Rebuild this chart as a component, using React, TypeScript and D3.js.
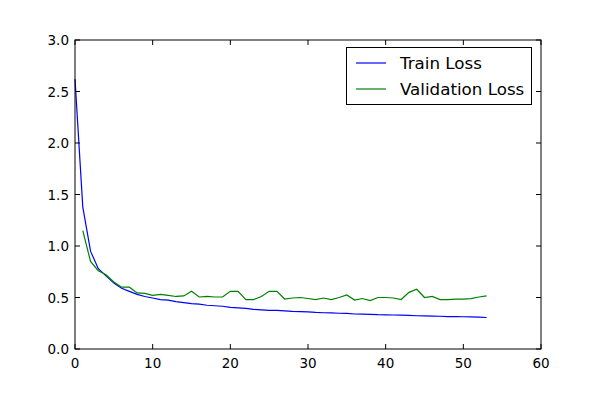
import React from 'react'
import * as d3 from 'd3'

const trainLoss = [2.62, 1.38, 0.95, 0.78, 0.71, 0.64, 0.59, 0.56, 0.53, 0.51, 0.495, 0.48, 0.475, 0.46, 0.45, 0.44, 0.435, 0.425, 0.42, 0.415,
  0.405, 0.4, 0.395, 0.385, 0.38, 0.375, 0.375, 0.37, 0.365, 0.362, 0.36, 0.355, 0.352, 0.35, 0.347, 0.345, 0.34, 0.338, 0.336, 0.333,
  0.332, 0.33, 0.328, 0.326, 0.323, 0.322, 0.32, 0.318, 0.315, 0.315, 0.313, 0.311, 0.309, 0.306]
const valLoss = [1.15, 0.85, 0.76, 0.72, 0.65, 0.6, 0.6, 0.545, 0.54, 0.52, 0.53, 0.52, 0.51, 0.515, 0.56, 0.505, 0.51, 0.505, 0.505,
  0.56, 0.56, 0.48, 0.48, 0.51, 0.56, 0.56, 0.485, 0.495, 0.5, 0.49, 0.48, 0.495, 0.48, 0.5, 0.525, 0.475, 0.49, 0.47, 0.5, 0.5,
  0.495, 0.48, 0.55, 0.58, 0.5, 0.51, 0.48, 0.48, 0.485, 0.485, 0.49, 0.505, 0.515]
const xTicks = [0, 10, 20, 30, 40, 50, 60]
const yTicks = [0, 0.5, 1, 1.5, 2, 2.5, 3]

export default function App() {
  const m = { l: 75, r: 541, t: 40, b: 349 }
  const x = d3.scaleLinear().domain([0, 60]).range([m.l, m.r])
  const y = d3.scaleLinear().domain([0, 3]).range([m.b, m.t])
  const line = d3.line<[number, number]>().x(d => x(d[0])).y(d => y(d[1]))
  const trainPts = trainLoss.map((v, i) => [i, v] as [number, number])
  const valPts = valLoss.map((v, i) => [i + 1, v] as [number, number])
  const font = 'DejaVu Sans, sans-serif'
  return (
    <svg width={600} height={400} style={{ position: 'absolute', left: 0, top: 0 }} fontFamily={font}>
      <rect width={600} height={400} fill="#fff" />
      <path d={line(trainPts)!} fill="none" stroke="#0000ff" strokeWidth={1.2} />
      <path d={line(valPts)!} fill="none" stroke="#008000" strokeWidth={1.2} />
      {xTicks.map(t => (
        <g key={'x' + t}>
          <line x1={x(t)} x2={x(t)} y1={m.b} y2={m.b - 5} stroke="#000" />
          <line x1={x(t)} x2={x(t)} y1={m.t} y2={m.t + 5} stroke="#000" />
          <text x={x(t)} y={m.b + 19} fontSize={13.5} textAnchor="middle">{t}</text>
        </g>
      ))}
      {yTicks.map(t => (
        <g key={'y' + t}>
          <line x1={m.l} x2={m.l + 5} y1={y(t)} y2={y(t)} stroke="#000" />
          <line x1={m.r} x2={m.r - 5} y1={y(t)} y2={y(t)} stroke="#000" />
          <text x={m.l - 6} y={y(t) + 5} fontSize={13.5} textAnchor="end">{t.toFixed(1)}</text>
        </g>
      ))}
      <rect x={m.l} y={m.t} width={m.r - m.l} height={m.b - m.t} fill="none" stroke="#000" strokeWidth={1} />
      <g>
        <rect x={346.5} y={47.5} width={185} height={57} fill="#fff" stroke="#000" />
        <line x1={356} x2={386} y1={63} y2={63} stroke="#0000ff" strokeWidth={1.2} />
        <text x={400} y={69} fontSize={16.7}>Train Loss</text>
        <line x1={356} x2={386} y1={89} y2={89} stroke="#008000" strokeWidth={1.2} />
        <text x={400} y={95} fontSize={16.7}>Validation Loss</text>
      </g>
    </svg>
  )
}
